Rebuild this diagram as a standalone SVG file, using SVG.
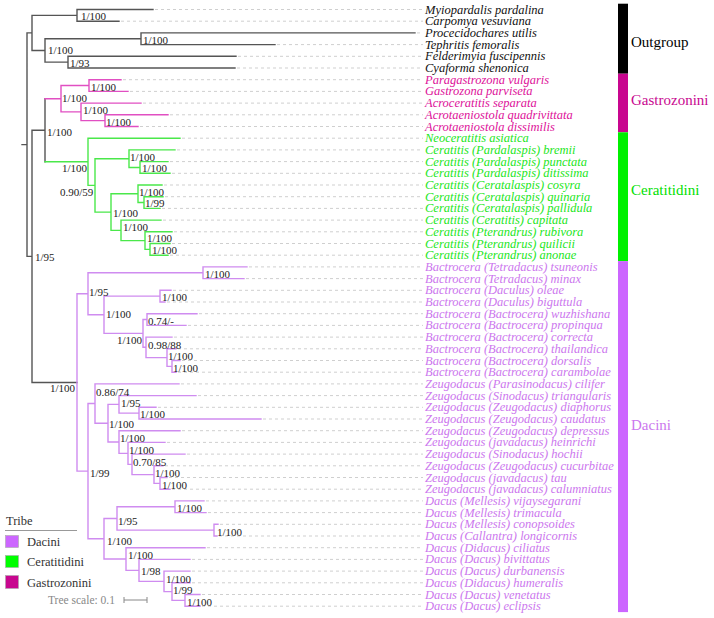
<svg xmlns="http://www.w3.org/2000/svg" width="714" height="618" viewBox="0 0 714 618">
<style>
.b{fill:none;stroke-width:1.4;stroke-linecap:square}
.og{stroke:#555}
.gz{stroke:#e14fc2}
.ce{stroke:#4ae84a}
.da{stroke:#cf8cf0}
.dash{fill:none;stroke:#cfcfcf;stroke-width:1;stroke-dasharray:3 3}
.lf{font-family:"Liberation Serif",serif;font-style:italic;font-size:12.5px}
.t-og{fill:#111}
.t-gz{fill:#dd1199}
.t-ce{fill:#22e622}
.t-da{fill:#cc77ee}
.sp{font-family:"Liberation Serif",serif;font-size:11px;fill:#222}
.lg{font-family:"Liberation Serif",serif;font-size:12.5px;fill:#333}
.tr{font-family:"Liberation Serif",serif;font-size:15px}
</style>
<rect width="714" height="618" fill="#fff"/>
<g id="connectors">
<path class="dash" d="M155,9.5H423 M121,21.2H423 M417,32.9H423 M277,44.6H423 M238,56.3H423 M237,68H423 M123,79.7H423 M130,91.4H423 M143,103.1H423 M170,114.8H423 M140,126.5H423 M182,138.2H423 M177,149.9H423 M170,161.6H423 M172,173.3H423 M164,185H423 M165,196.7H423 M162,208.4H423 M163,220.1H423 M174,231.8H423 M172,243.5H423 M170,255.2H423 M249,266.9H423 M246,278.6H423 M173,290.3H423 M167,302H423 M199,313.7H423 M188,325.4H423 M174,337.1H423 M178,348.8H423 M182,360.5H423 M178,372.2H423 M181,383.9H423 M198,395.6H423 M158,407.3H423 M263,419H423 M182,430.7H423 M167,442.4H423 M187,454.1H423 M165,465.8H423 M169,477.5H423 M172,489.2H423 M206,500.9H423 M208,512.6H423 M220,524.3H423 M219,536H423 M207,547.7H423 M192,559.4H423 M192,571.1H423 M192,582.8H423 M202,594.5H423 M202,606.2H423"/>
<path class="b og" d="M22,144.6H27 M27,32.9V256.4 M27,32.9H32 M32,15.35V50.45 M32,15.35H77 M77,9.5V21.2 M77,9.5H153 M77,21.2H119 M32,50.45H45 M45,38.75V62.15 M45,38.75H141 M141,32.9V44.6 M141,32.9H415 M141,44.6H275 M45,62.15H68 M68,56.3V68 M68,56.3H236 M68,68H235 M27,256.4H32 M32,130.25V382.5 M32,130.25H45 M45,98.7V161.8 M32,382.5H77"/>
<path class="b gz" d="M45,98.7H61 M61,85.55V111.9 M61,85.55H89 M89,79.7V91.4 M89,79.7H121 M89,91.4H128 M61,111.9H81 M81,103.1V120.65 M81,103.1H141 M81,120.65H105 M105,114.8V126.5 M105,114.8H168 M105,126.5H138"/>
<path class="b ce" d="M45,161.8H88 M88,138.2V185.4 M88,138.2H180 M88,185.4H95 M95,158.7V212.1 M95,158.7H129 M129,149.9V167.45 M129,149.9H175 M129,167.45H140 M140,161.6V173.3 M140,161.6H168 M140,173.3H170 M95,212.1H111 M111,193.8V230.35 M111,193.8H138 M138,185V202.55 M138,185H162 M138,202.55H144 M144,196.7V208.4 M144,196.7H163 M144,208.4H160 M111,230.35H121 M121,220.1V240.6 M121,220.1H161 M121,240.6H145 M145,231.8V249.35 M145,231.8H172 M145,249.35H150 M150,243.5V255.2 M150,243.5H170 M150,255.2H168"/>
<path class="b da" d="M77,293.8V471.15 M77,293.8H88 M88,272.75V314.8 M88,272.75H203 M203,266.9V278.6 M203,266.9H247 M203,278.6H244 M88,314.8H104 M104,296.15V333.4 M104,296.15H160 M160,290.3V302 M160,290.3H171 M160,302H165 M104,333.4H143 M143,319.55V347.3 M143,319.55H147 M147,313.7V325.4 M147,313.7H197 M147,325.4H186 M143,347.3H146 M146,337.1V357.6 M146,337.1H172 M146,357.6H167 M167,348.8V366.35 M167,348.8H176 M167,366.35H172 M172,360.5V372.2 M172,360.5H180 M172,372.2H176 M77,471.15H88 M88,403.55V538.75 M88,403.55H95 M95,383.9V423.2 M95,383.9H179 M95,423.2H108 M108,404.4V442.05 M108,404.4H119 M119,395.6V413.15 M119,395.6H196 M119,413.15H139 M139,407.3V419 M139,407.3H156 M139,419H261 M108,442.05H119 M119,430.7V453.4 M119,430.7H180 M119,453.4H128 M128,442.4V464.35 M128,442.4H165 M128,464.35H132 M132,454.1V474.6 M132,454.1H185 M132,474.6H154 M154,465.8V483.35 M154,465.8H163 M154,483.35H160 M160,477.5V489.2 M160,477.5H167 M160,489.2H170 M88,538.75H104 M104,518.45V559.05 M104,518.45H117 M117,506.75V530.15 M117,506.75H175 M175,500.9V512.6 M175,500.9H204 M175,512.6H206 M117,530.15H214 M214,524.3V536 M214,524.3H218 M214,536H217 M104,559.05H126 M126,547.7V570.4 M126,547.7H205 M126,570.4H139 M139,559.4V581.35 M139,559.4H190 M139,581.35H164 M164,571.1V591.6 M164,571.1H190 M164,591.6H172 M172,582.8V600.35 M172,582.8H190 M172,600.35H185 M185,594.5V606.2 M185,594.5H200 M185,606.2H200"/>
</g>
<g id="leaves">
<g id="leaf-outgroup" class="lf t-og">
<text x="425" y="13.5">Myiopardalis pardalina</text>
<text x="425" y="25.2">Carpomya vesuviana</text>
<text x="425" y="36.9">Procecidochares utilis</text>
<text x="425" y="48.6">Tephritis femoralis</text>
<text x="425" y="60.3">Felderimyia fuscipennis</text>
<text x="425" y="72">Cyaforma shenonica</text>
</g>
<g id="leaf-gastrozonini" class="lf t-gz">
<text x="425" y="83.7">Paragastrozona vulgaris</text>
<text x="425" y="95.4">Gastrozona parviseta</text>
<text x="425" y="107.1">Acroceratitis separata</text>
<text x="425" y="118.8">Acrotaeniostola quadrivittata</text>
<text x="425" y="130.5">Acrotaeniostola dissimilis</text>
</g>
<g id="leaf-ceratitidini" class="lf t-ce">
<text x="425" y="142.2">Neoceratitis asiatica</text>
<text x="425" y="153.9">Ceratitis (Pardalaspis) bremii</text>
<text x="425" y="165.6">Ceratitis (Pardalaspis) punctata</text>
<text x="425" y="177.3">Ceratitis (Pardalaspis) ditissima</text>
<text x="425" y="189">Ceratitis (Ceratalaspis) cosyra</text>
<text x="425" y="200.7">Ceratitis (Ceratalaspis) quinaria</text>
<text x="425" y="212.4">Ceratitis (Ceratalaspis) pallidula</text>
<text x="425" y="224.1">Ceratitis (Ceratitis) capitata</text>
<text x="425" y="235.8">Ceratitis (Pterandrus) rubivora</text>
<text x="425" y="247.5">Ceratitis (Pterandrus) quilicii</text>
<text x="425" y="259.2">Ceratitis (Pterandrus) anonae</text>
</g>
<g id="leaf-dacini" class="lf t-da">
<text x="425" y="270.9">Bactrocera (Tetradacus) tsuneonis</text>
<text x="425" y="282.6">Bactrocera (Tetradacus) minax</text>
<text x="425" y="294.3">Bactrocera (Daculus) oleae</text>
<text x="425" y="306">Bactrocera (Daculus) biguttula</text>
<text x="425" y="317.7">Bactrocera (Bactrocera) wuzhishana</text>
<text x="425" y="329.4">Bactrocera (Bactrocera) propinqua</text>
<text x="425" y="341.1">Bactrocera (Bactrocera) correcta</text>
<text x="425" y="352.8">Bactrocera (Bactrocera) thailandica</text>
<text x="425" y="364.5">Bactrocera (Bactrocera) dorsalis</text>
<text x="425" y="376.2">Bactrocera (Bactrocera) carambolae</text>
<text x="425" y="387.9">Zeugodacus (Parasinodacus) cilifer</text>
<text x="425" y="399.6">Zeugodacus (Sinodacus) triangularis</text>
<text x="425" y="411.3">Zeugodacus (Zeugodacus) diaphorus</text>
<text x="425" y="423">Zeugodacus (Zeugodacus) caudatus</text>
<text x="425" y="434.7">Zeugodacus (Zeugodacus) depressus</text>
<text x="425" y="446.4">Zeugodacus (javadacus) heinrichi</text>
<text x="425" y="458.1">Zeugodacus (Sinodacus) hochii</text>
<text x="425" y="469.8">Zeugodacus (Zeugodacus) cucurbitae</text>
<text x="425" y="481.5">Zeugodacus (javadacus) tau</text>
<text x="425" y="493.2">Zeugodacus (javadacus) calumniatus</text>
<text x="425" y="504.9">Dacus (Mellesis) vijaysegarani</text>
<text x="425" y="516.6">Dacus (Mellesis) trimacula</text>
<text x="425" y="528.3">Dacus (Mellesis) conopsoides</text>
<text x="425" y="540">Dacus (Callantra) longicornis</text>
<text x="425" y="551.7">Dacus (Didacus) ciliatus</text>
<text x="425" y="563.4">Dacus (Dacus) bivittatus</text>
<text x="425" y="575.1">Dacus (Dacus) durbanensis</text>
<text x="425" y="586.8">Dacus (Didacus) humeralis</text>
<text x="425" y="598.5">Dacus (Dacus) venetatus</text>
<text x="425" y="610.2">Dacus (Dacus) eclipsis</text>
</g>
</g>
<g id="support-values" class="sp">
<g id="n-out1"><text x="81" y="20">1/100</text></g>
<g id="n-out2"><text x="143" y="44">1/100</text></g>
<g id="n-out3"><text x="48" y="54">1/100</text></g>
<g id="n-out4"><text x="70" y="67">1/93</text></g>
<g id="n-gz1"><text x="91" y="91">1/100</text></g>
<g id="n-gz2"><text x="62" y="102">1/100</text></g>
<g id="n-gz3"><text x="83" y="114">1/100</text></g>
<g id="n-gz4"><text x="106" y="126">1/100</text></g>
<g id="n-gzce"><text x="47" y="136">1/100</text></g>
<g id="n-ingroup"><text x="35" y="261">1/95</text></g>
<g id="n-ce1"><text x="62" y="172">1/100</text></g>
<g id="n-ce2"><text x="60" y="196">0.90/59</text></g>
<g id="n-ce3"><text x="130" y="161">1/100</text></g>
<g id="n-ce4"><text x="142" y="172">1/100</text></g>
<g id="n-ce5"><text x="139" y="196">1/100</text></g>
<g id="n-ce6"><text x="145" y="207">1/99</text></g>
<g id="n-ce7"><text x="113" y="217">1/100</text></g>
<g id="n-ce8"><text x="123" y="231">1/100</text></g>
<g id="n-ce9"><text x="147" y="242">1/100</text></g>
<g id="n-ce10"><text x="152" y="254">1/100</text></g>
<g id="n-da"><text x="50" y="392">1/100</text></g>
<g id="n-ba1"><text x="205" y="278">1/100</text></g>
<g id="n-ba2"><text x="89" y="296">1/95</text></g>
<g id="n-ba3"><text x="162" y="301">1/100</text></g>
<g id="n-ba4"><text x="106" y="318">1/100</text></g>
<g id="n-ba5"><text x="148" y="325">0.74/-</text></g>
<g id="n-ba6"><text x="117" y="344">1/100</text></g>
<g id="n-ba7"><text x="148" y="349">0.98/88</text></g>
<g id="n-ba8"><text x="168" y="360">1/100</text></g>
<g id="n-ba9"><text x="173" y="372">1/100</text></g>
<g id="n-ze1"><text x="96" y="396">0.86/74</text></g>
<g id="n-ze2"><text x="121" y="407">1/95</text></g>
<g id="n-ze3"><text x="140" y="418">1/100</text></g>
<g id="n-ze4"><text x="109" y="428">1/100</text></g>
<g id="n-ze5"><text x="120" y="442">1/100</text></g>
<g id="n-ze6"><text x="129" y="454">1/100</text></g>
<g id="n-ze7"><text x="133" y="466">0.70/85</text></g>
<g id="n-ze8"><text x="155" y="477">1/100</text></g>
<g id="n-ze9"><text x="162" y="489">1/100</text></g>
<g id="n-zeda"><text x="90" y="477">1/99</text></g>
<g id="n-dc1"><text x="177" y="512">1/100</text></g>
<g id="n-dc2"><text x="118" y="525">1/95</text></g>
<g id="n-dc3"><text x="217" y="536">1/100</text></g>
<g id="n-dc4"><text x="107" y="545">1/100</text></g>
<g id="n-dc5"><text x="128" y="559">1/100</text></g>
<g id="n-dc6"><text x="141" y="575">1/98</text></g>
<g id="n-dc7"><text x="166" y="583">1/100</text></g>
<g id="n-dc8"><text x="173" y="594">1/99</text></g>
<g id="n-dc9"><text x="187" y="606">1/100</text></g>
</g>
<g id="tribe-bar">
<rect x="618" y="3.7" width="10" height="70" fill="#000"/>
<rect x="618" y="73.7" width="10" height="58.6" fill="#c8078f"/>
<rect x="618" y="132.3" width="10" height="128.8" fill="#00f000"/>
<rect x="618" y="261.1" width="10" height="351" fill="#cc66ff"/>
<text class="tr" x="631" y="47" fill="#000">Outgroup</text>
<text class="tr" x="631" y="105" fill="#c8078f">Gastrozonini</text>
<text class="tr" x="631" y="195" fill="#00e000">Ceratitidini</text>
<text class="tr" x="631" y="430" fill="#cc77ee">Dacini</text>
</g>
<g id="legend">
<text class="lg" x="6" y="525">Tribe</text>
<line x1="5" y1="530.5" x2="77" y2="530.5" stroke="#999" stroke-width="1"/>
<rect x="5.5" y="535.5" width="13" height="12" fill="#cc66ff" stroke="#aaa" stroke-width="0.6"/>
<text class="lg" x="27" y="546">Dacini</text>
<rect x="5.5" y="555.5" width="13" height="12" fill="#00ff00" stroke="#aaa" stroke-width="0.6"/>
<text class="lg" x="27" y="566">Ceratitidini</text>
<rect x="5.5" y="575.5" width="13" height="13" fill="#c8078f" stroke="#aaa" stroke-width="0.6"/>
<text class="lg" x="27" y="587">Gastrozonini</text>
</g>
<g id="tree-scale">
<text x="48" y="604" font-family="Liberation Serif, serif" font-size="11.5" fill="#888">Tree scale: 0.1</text>
<path d="M124,600H147 M124,597V603 M147,597V603" stroke="#888" stroke-width="1" fill="none"/>
</g>
</svg>
